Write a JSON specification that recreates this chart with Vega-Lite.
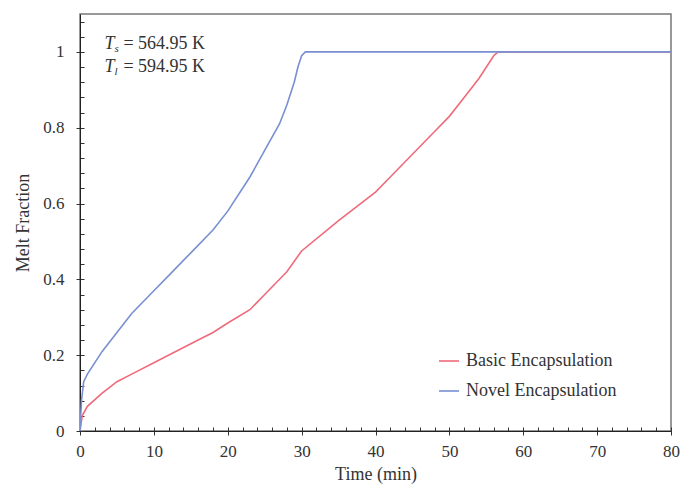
{
  "$schema": "https://vega.github.io/schema/vega-lite/v6.json",
  "width": 591,
  "height": 417,
  "autosize": {"type": "none"},
  "padding": {"left": 80, "top": 14, "right": 10, "bottom": 62},
  "background": "white",
  "config": {
    "font": "Liberation Serif",
    "view": {"stroke": "#777", "strokeWidth": 1.5},
    "axis": {
      "grid": false,
      "domainColor": "#222",
      "tickColor": "#333",
      "labelFont": "Liberation Serif",
      "titleFont": "Liberation Serif",
      "labelFontSize": 17,
      "titleFontSize": 18,
      "labelColor": "#333",
      "titleColor": "#333",
      "titleFontWeight": "normal",
      "labelOverlap": false
    }
  },
  "resolve": {"axis": {"x": "independent", "y": "independent"}},
  "datasets": {
    "curves": [
      {"series": "Basic Encapsulation", "t": 0, "f": 0},
      {"series": "Basic Encapsulation", "t": 0.3, "f": 0.04},
      {"series": "Basic Encapsulation", "t": 1, "f": 0.065},
      {"series": "Basic Encapsulation", "t": 3, "f": 0.1},
      {"series": "Basic Encapsulation", "t": 5, "f": 0.13},
      {"series": "Basic Encapsulation", "t": 7, "f": 0.15},
      {"series": "Basic Encapsulation", "t": 10, "f": 0.18},
      {"series": "Basic Encapsulation", "t": 15, "f": 0.23},
      {"series": "Basic Encapsulation", "t": 18, "f": 0.26},
      {"series": "Basic Encapsulation", "t": 20, "f": 0.285},
      {"series": "Basic Encapsulation", "t": 23, "f": 0.32},
      {"series": "Basic Encapsulation", "t": 25, "f": 0.36},
      {"series": "Basic Encapsulation", "t": 28, "f": 0.42},
      {"series": "Basic Encapsulation", "t": 30, "f": 0.475},
      {"series": "Basic Encapsulation", "t": 35, "f": 0.555},
      {"series": "Basic Encapsulation", "t": 40, "f": 0.63},
      {"series": "Basic Encapsulation", "t": 42, "f": 0.67},
      {"series": "Basic Encapsulation", "t": 45, "f": 0.73},
      {"series": "Basic Encapsulation", "t": 48, "f": 0.79},
      {"series": "Basic Encapsulation", "t": 50, "f": 0.83},
      {"series": "Basic Encapsulation", "t": 52, "f": 0.88},
      {"series": "Basic Encapsulation", "t": 54, "f": 0.93},
      {"series": "Basic Encapsulation", "t": 56, "f": 0.99},
      {"series": "Basic Encapsulation", "t": 56.6, "f": 1},
      {"series": "Basic Encapsulation", "t": 80, "f": 1},
      {"series": "Novel Encapsulation", "t": 0, "f": 0},
      {"series": "Novel Encapsulation", "t": 0.2, "f": 0.08},
      {"series": "Novel Encapsulation", "t": 0.5, "f": 0.13},
      {"series": "Novel Encapsulation", "t": 1, "f": 0.15},
      {"series": "Novel Encapsulation", "t": 3, "f": 0.21},
      {"series": "Novel Encapsulation", "t": 5, "f": 0.26},
      {"series": "Novel Encapsulation", "t": 7, "f": 0.31},
      {"series": "Novel Encapsulation", "t": 10, "f": 0.37},
      {"series": "Novel Encapsulation", "t": 12, "f": 0.41},
      {"series": "Novel Encapsulation", "t": 15, "f": 0.47},
      {"series": "Novel Encapsulation", "t": 18, "f": 0.53},
      {"series": "Novel Encapsulation", "t": 20, "f": 0.58},
      {"series": "Novel Encapsulation", "t": 23, "f": 0.67},
      {"series": "Novel Encapsulation", "t": 25, "f": 0.74},
      {"series": "Novel Encapsulation", "t": 27, "f": 0.81},
      {"series": "Novel Encapsulation", "t": 28, "f": 0.86},
      {"series": "Novel Encapsulation", "t": 29, "f": 0.92},
      {"series": "Novel Encapsulation", "t": 29.5, "f": 0.96},
      {"series": "Novel Encapsulation", "t": 30, "f": 0.99},
      {"series": "Novel Encapsulation", "t": 30.5, "f": 1},
      {"series": "Novel Encapsulation", "t": 80, "f": 1}
    ],
    "notes": [
      {"t": 3.3, "f": 1.02, "sub": "s", "rest": "= 564.95 K"},
      {"t": 3.3, "f": 0.96, "sub": "l", "rest": "= 594.95 K"}
    ]
  },
  "layer": [
    {
      "data": {"name": "curves"},
      "mark": {"type": "point", "opacity": 0},
      "encoding": {
        "x": {
          "field": "t", "type": "quantitative",
          "scale": {"domain": [0, 80], "nice": false},
          "axis": {
            "orient": "bottom",
            "title": null,
            "values": [0,2,4,6,8,10,12,14,16,18,20,22,24,26,28,30,32,34,36,38,40,42,44,46,48,50,52,54,56,58,60,62,64,66,68,70,72,74,76,78,80],
            "labels": false,
            "tickSize": -4,
            "domain": false
          }
        },
        "y": {
          "field": "f", "type": "quantitative",
          "scale": {"domain": [0, 1.1], "nice": false},
          "axis": {
            "orient": "left",
            "title": null,
            "values": [0,0.04,0.08,0.12,0.16,0.2,0.24,0.28,0.32,0.36,0.4,0.44,0.48,0.52,0.56,0.6,0.64,0.68,0.72,0.76,0.8,0.84,0.88,0.92,0.96,1,1.04,1.08],
            "labels": false,
            "tickSize": -4,
            "domain": false
          }
        }
      }
    },
    {
      "data": {"name": "curves"},
      "mark": {"type": "line", "strokeWidth": 1.6, "clip": true},
      "encoding": {
        "x": {
          "field": "t", "type": "quantitative",
          "axis": {
            "orient": "bottom",
            "title": "Time (min)",
            "values": [0, 10, 20, 30, 40, 50, 60, 70, 80],
            "format": "d",
            "tickSize": 4,
            "labelPadding": 8,
            "titlePadding": 6,
            "labelFlush": false
          }
        },
        "y": {
          "field": "f", "type": "quantitative",
          "axis": {
            "orient": "left",
            "title": "Melt Fraction",
            "values": [0, 0.2, 0.4, 0.6, 0.8, 1],
            "format": "~g",
            "tickSize": 4,
            "labelPadding": 12,
            "titlePadding": 10,
            "labelFlush": false
          }
        },
        "color": {
          "field": "series", "type": "nominal",
          "scale": {"domain": ["Basic Encapsulation", "Novel Encapsulation"], "range": ["#ef6b7b", "#7890d2"]},
          "legend": {
            "title": null,
            "orient": "none",
            "legendX": 358,
            "legendY": 336,
            "symbolType": "stroke",
            "symbolSize": 400,
            "symbolStrokeWidth": 1.6,
            "labelFont": "Liberation Serif",
            "labelFontSize": 18,
            "labelColor": "#333",
            "rowPadding": 10,
            "labelOffset": 6
          }
        }
      }
    },
    {
      "data": {"name": "notes"},
      "mark": {"type": "text", "align": "left", "baseline": "middle", "fontStyle": "italic", "fontSize": 18, "color": "#333", "font": "Liberation Serif"},
      "encoding": {
        "x": {"field": "t", "type": "quantitative", "axis": null},
        "y": {"field": "f", "type": "quantitative", "axis": null},
        "text": {"value": "T"}
      }
    },
    {
      "data": {"name": "notes"},
      "mark": {"type": "text", "align": "left", "baseline": "middle", "fontStyle": "italic", "fontSize": 11, "dx": 10, "dy": 5, "color": "#333", "font": "Liberation Serif"},
      "encoding": {
        "x": {"field": "t", "type": "quantitative", "axis": null},
        "y": {"field": "f", "type": "quantitative", "axis": null},
        "text": {"field": "sub"}
      }
    },
    {
      "data": {"name": "notes"},
      "mark": {"type": "text", "align": "left", "baseline": "middle", "fontSize": 18, "dx": 19, "color": "#333", "font": "Liberation Serif"},
      "encoding": {
        "x": {"field": "t", "type": "quantitative", "axis": null},
        "y": {"field": "f", "type": "quantitative", "axis": null},
        "text": {"field": "rest"}
      }
    }
  ]
}
